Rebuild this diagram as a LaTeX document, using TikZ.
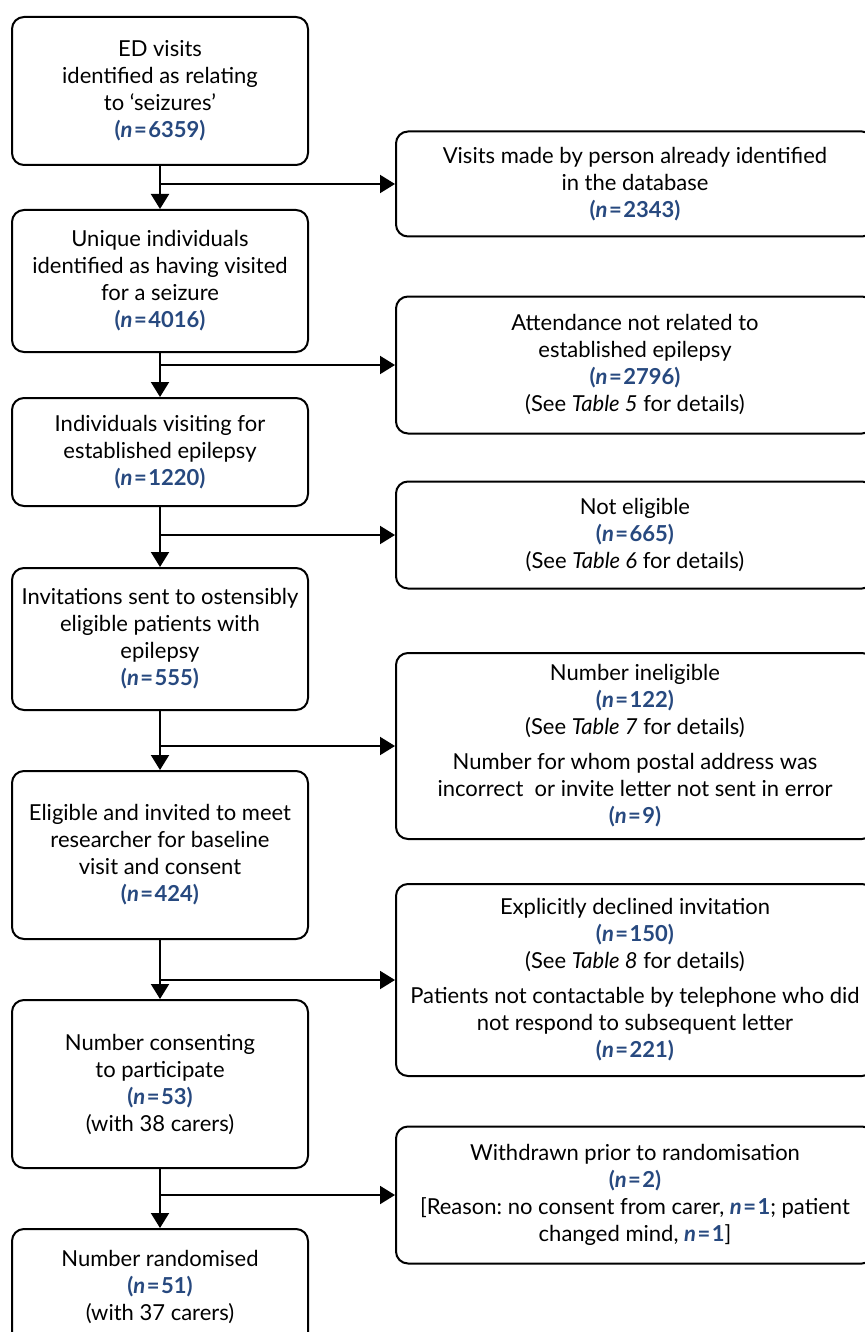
\documentclass[tikz,border=0pt]{standalone}
\usepackage{fontspec}
\setmainfont{Lato}
\usepackage{tikz}
\usetikzlibrary{arrows.meta,positioning}
\definecolor{nblue}{HTML}{27497F}
\newcommand{\nval}[1]{\textcolor{nblue}{\textbf{(\textit{n}\kern1.5pt=\kern1.5pt#1)}}}
\newcommand{\ninl}[1]{\textcolor{nblue}{\textbf{\textit{n}\kern1.5pt=\kern1.5pt#1}}}
\frenchspacing

\begin{document}
\begin{tikzpicture}[
    x=1pt, y=-1pt,
    font=\fontsize{22}{27}\selectfont,
    mainbox/.style={rounded corners=12pt, draw=black, line width=2pt, fill=white,
      align=center, minimum width=296pt, inner sep=4pt},
    sidebox/.style={rounded corners=12pt, draw=black, line width=2pt, fill=white,
      align=center, minimum width=478pt, inner sep=4pt, anchor=west},
    flow/.style={-{Triangle[length=15pt,width=18pt]}, line width=2pt, black}
  ]
    \useasboundingbox (0,0) rectangle (864,1332);
    % Main stream
    \node[mainbox, minimum height=148pt] (visits) at (160,91)
      {ED visits\\identified as relating\\to ‘seizures’\\\nval{6359}};
    \node[mainbox, minimum height=142pt, below=43pt of visits] (unique)
      {Unique individuals\\identified as having visited\\for a seizure\\\nval{4016}};
    \node[mainbox, minimum height=108pt, below=44pt of unique] (established)
      {Individuals visiting for\\established epilepsy\\\nval{1220}};
    \node[mainbox, minimum height=142pt, below=60pt of established] (invited)
      {Invitations sent to ostensibly\\eligible patients with\\epilepsy\\\nval{555}};
    \node[mainbox, minimum height=168pt, below=59pt of invited] (eligible)
      {Eligible and invited to meet\\researcher for baseline\\visit and consent\\\nval{424}};
    \node[mainbox, minimum height=168pt, below=59pt of eligible] (consent)
      {Number consenting\\to participate\\\nval{53}\\(with 38 carers)};
    \node[mainbox, minimum height=116pt, below=59pt of consent] (random)
      {Number randomised\\\nval{51}\\(with 37 carers)};
    % Exclusions
    \node[sidebox, minimum height=105pt] (repeat) at (395,184)
      {Visits made by person already identified\\in the database\\\nval{2343}};
    \node[sidebox, minimum height=137pt] (notrel) at (395,365)
      {Attendance not related to\\established epilepsy\\\nval{2796}\\(See \textit{Table 5} for details)};
    \node[sidebox, minimum height=107pt] (notelig) at (395,535)
      {Not eligible\\\nval{665}\\(See \textit{Table 6} for details)};
    \node[sidebox, minimum height=186pt] (inelig) at (395,746)
      {Number ineligible\\\nval{122}\\(See \textit{Table 7} for details)\\[8pt]
       Number for whom postal address was\\incorrect\ \ or invite letter not sent in error\\\nval{9}};
    \node[sidebox, minimum height=192pt] (declined) at (395,980)
      {Explicitly declined invitation\\\nval{150}\\(See \textit{Table 8} for details)\\[8pt]
       Patients not contactable by telephone who did\\not respond to subsequent letter\\\nval{221}};
    \node[sidebox, minimum height=137pt] (withdrawn) at (395,1195)
      {Withdrawn prior to randomisation\\\nval{2}\\{[}Reason: no consent from carer, \ninl{1}; patient\\changed mind, \ninl{1}]};
    % Vertical arrows
    \draw[flow] (visits) -- (unique);
    \draw[flow] (unique) -- (established);
    \draw[flow] (established) -- (invited);
    \draw[flow] (invited) -- (eligible);
    \draw[flow] (eligible) -- (consent);
    \draw[flow] (consent) -- (random);
    % Side arrows
    \draw[flow] (visits.south |- repeat.west) -- (repeat.west);
    \draw[flow] (unique.south |- notrel.west) -- (notrel.west);
    \draw[flow] (established.south |- notelig.west) -- (notelig.west);
    \draw[flow] (invited.south |- inelig.west) -- (inelig.west);
    \draw[flow] (eligible.south |- declined.west) -- (declined.west);
    \draw[flow] (consent.south |- withdrawn.west) -- (withdrawn.west);
\end{tikzpicture}
\end{document}
